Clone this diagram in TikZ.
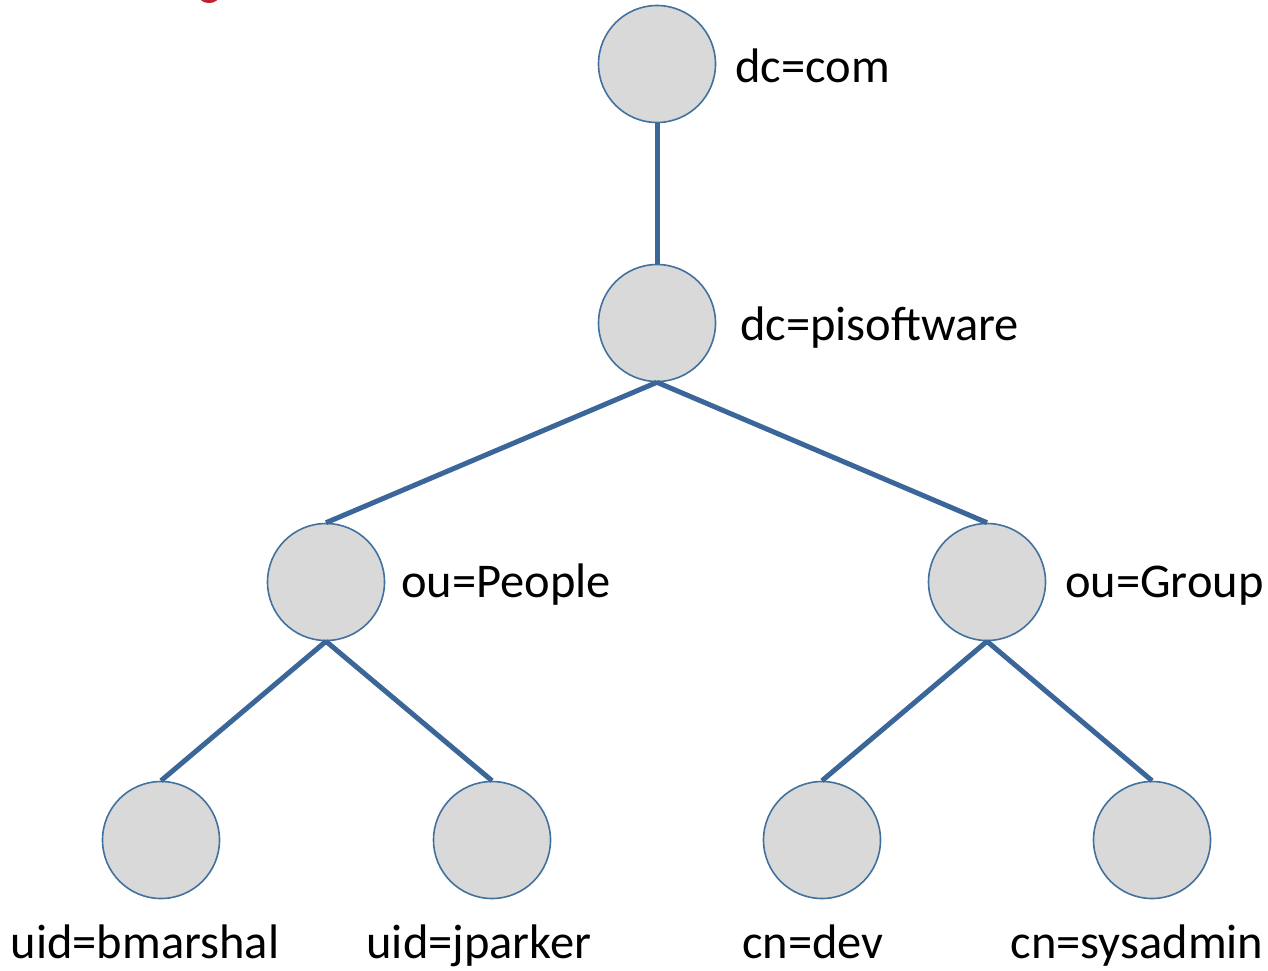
\documentclass[tikz,border=0pt]{standalone}
\usepackage{fontspec}
\setmainfont{Carlito}
\definecolor{edgeblue}{HTML}{3A6699}
\definecolor{ringblue}{HTML}{41719C}
\definecolor{nodegray}{HTML}{D9D9D9}
\definecolor{titlered}{HTML}{C0202E}
\begin{document}
\begin{tikzpicture}[x=1pt,y=-1pt,
  entry/.style={circle,draw=ringblue,line width=1.6pt,fill=nodegray,minimum size=117pt,inner sep=0pt},
  link/.style={draw=edgeblue,line width=5pt},
  lbl/.style={font=\fontsize{48.5}{52}\selectfont,inner sep=0pt,text=black}]
\useasboundingbox (0,0) rectangle (1268,970);
\begin{scope}
\clip (0,0) rectangle (1268,970);
\fill[titlered] (209,-4) ellipse (10pt and 7pt);
\end{scope}
\node[entry] (com) at (657,64) {};
\node[entry] (pis) at (657,323) {};
\node[entry] (people) at (326,582) {};
\node[entry] (group) at (987,582) {};
\node[entry] (bm) at (161,840) {};
\node[entry] (jp) at (492,840) {};
\node[entry] (dev) at (822,840) {};
\node[entry] (sys) at (1152,840) {};
\draw[link] (com.south) -- (pis.north);
\draw[link] (pis.south) -- (people.north);
\draw[link] (pis.south) -- (group.north);
\draw[link] (people.south) -- (bm.north);
\draw[link] (people.south) -- (jp.north);
\draw[link] (group.south) -- (dev.north);
\draw[link] (group.south) -- (sys.north);
\node[lbl,anchor=base west] (lcom) at (735,82) {dc=com};
\node[lbl,anchor=base west] (lpis) at (740,340) {dc=pisoftware};
\node[lbl,anchor=base west] (lpeople) at (401,597) {ou=People};
\node[lbl,anchor=base west] (lgroup) at (1065,597) {ou=Group};
\node[lbl,anchor=base] (lbm) at (145,958) {uid=bmarshal};
\node[lbl,anchor=base] (ljp) at (479,958) {uid=jparker};
\node[lbl,anchor=base] (ldev) at (813,958) {cn=dev};
\node[lbl,anchor=base] (lsys) at (1137,958) {cn=sysadmin};
\end{tikzpicture}
\end{document}
